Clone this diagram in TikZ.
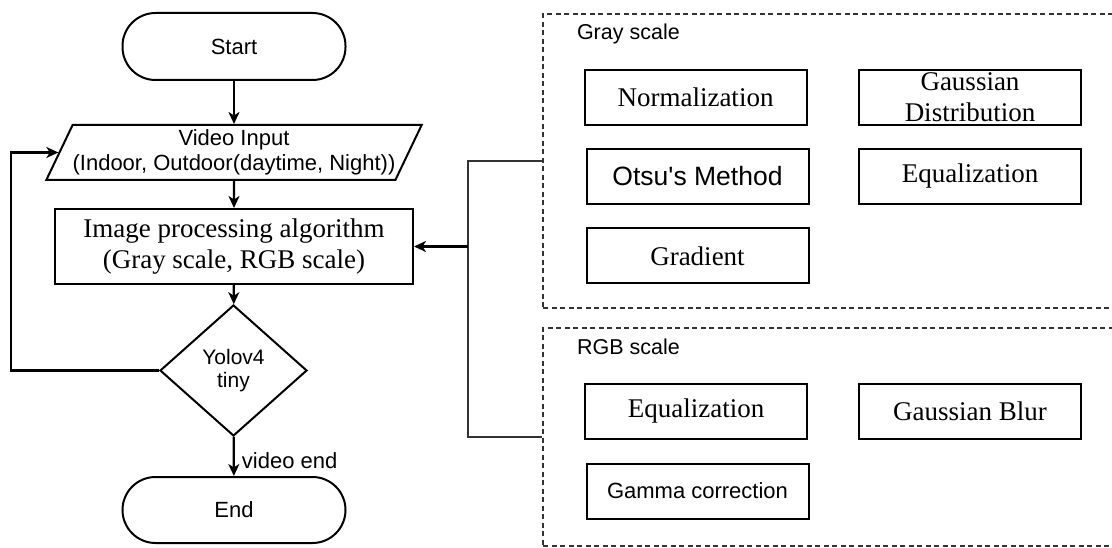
\documentclass[tikz,border=0pt]{standalone}
\usepackage{fontspec}
\setmainfont{Liberation Serif}
\setsansfont{Liberation Sans}
\usetikzlibrary{shapes.geometric,arrows.meta}

\begin{document}
\begin{tikzpicture}[x=1pt,y=-1pt,line width=2pt,
		sanstext/.style={font=\fontsize{22}{25}\selectfont\sffamily},
		serftext/.style={font=\fontsize{27}{30.5}\selectfont\rmfamily},
		terminal/.style={draw,rounded corners=33pt,minimum width=223pt,minimum height=67pt,sanstext},
		iobox/.style={draw,trapezium,trapezium left angle=60,trapezium right angle=120,trapezium stretches body,minimum width=374pt,minimum height=55pt,inner sep=0pt,sanstext,align=center},
		procbox/.style={draw,minimum width=358pt,minimum height=75pt,inner sep=0pt,serftext,align=center},
		decision/.style={draw,diamond,minimum width=147pt,minimum height=131pt,inner sep=0pt,font=\fontsize{21}{23}\selectfont\sffamily,align=center},
		methodbox/.style={draw,minimum width=222pt,minimum height=55pt,inner sep=0pt,align=center},
		groupbox/.style={draw=black!80,dash pattern=on 5pt off 3.5pt,line width=1.8pt},
		grouplabel/.style={anchor=base west,inner sep=0pt,font=\fontsize{21.5}{24}\selectfont\sffamily},
		flowarrow/.style={-{Stealth[length=12pt,width=11pt,inset=3.5pt]},line width=2.2pt},
		linkline/.style={draw=black!80,line width=2.2pt}]
	\useasboundingbox (0,0) rectangle (1112,548);
	% flow chart
	\node[terminal] (start) at (234,46.5) {Start};
	\node[iobox] (vin) at (234,152.5) {Video Input\\(Indoor, Outdoor(daytime, Night))};
	\node[procbox] (imgproc) at (234,246.5) {Image processing algorithm\\(Gray scale, RGB scale)};
	\node[decision] (yolo) at (233.5,370.5) {Yolov4\\tiny};
	\node[terminal,minimum height=66pt] (stop) at (234,510) {End};
	\draw[flowarrow] (start) -- (vin);
	\draw[flowarrow] (vin) -- (imgproc);
	\draw[flowarrow] (imgproc) -- (yolo);
	\draw[flowarrow] (yolo) -- node[anchor=west,xshift=7pt,yshift=-4pt,inner sep=0pt,sanstext] (vend) {video end} (stop);
	\draw[flowarrow] (yolo.west) -- ++(-148,0) |- (vin.west);
	% gray scale group
	\node[groupbox,minimum width=597pt,minimum height=294pt] (gray) at (841.5,161) {};
	\node[grouplabel] (graylbl) at (576,40) {Gray scale};
	\node[methodbox,serftext] (norm) at (695.5,97.5) {Normalization};
	\node[methodbox,font=\fontsize{27}{31}\selectfont\rmfamily] (gdist) at (970,97.5) {Gaussian\\Distribution};
	\node[methodbox,font=\fontsize{26.5}{30}\selectfont\sffamily] (otsu) at (697.5,176.5) {Otsu\textquotesingle s Method};
	\node[methodbox,serftext] (geq) at (970,176.5) {Equalization};
	\node[methodbox,serftext] (grad) at (697.5,256) {Gradient};
	% rgb scale group
	\node[groupbox,minimum width=597pt,minimum height=218pt] (rgb) at (841.5,437) {};
	\node[grouplabel] (rgblbl) at (576,354) {RGB scale};
	\node[methodbox,serftext] (ceq) at (696,411) {Equalization};
	\node[methodbox,serftext] (blur) at (970,411) {Gaussian Blur};
	\node[methodbox,sanstext] (gamma) at (697.5,491) {Gamma correction};
	% link to the algorithm box
	\coordinate (bus) at (468,246.5);
	\draw[linkline] (gray.west) -| (bus) |- (rgb.west);
	\draw[flowarrow] (bus) -- (imgproc.east);
\end{tikzpicture}
\end{document}
